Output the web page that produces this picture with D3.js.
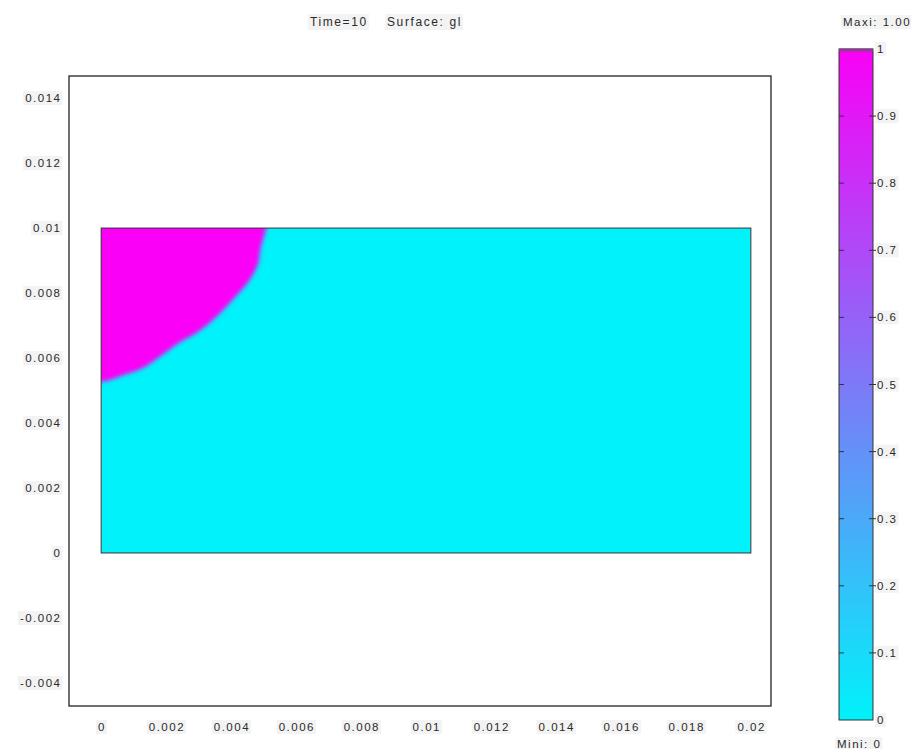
<!DOCTYPE html>
<html><head><meta charset="utf-8">
<script src="https://cdn.jsdelivr.net/npm/d3@7"></script>
<style>
html,body{margin:0;padding:0;background:#fff;}
text{font-family:"Liberation Sans",Arial,sans-serif;font-size:11.5px;letter-spacing:1.5px;fill:#2a2a2a;}
text.title{font-size:12px;letter-spacing:1.6px;}
</style></head>
<body><svg id="c" width="911" height="749"></svg>
<script>
// ---- data ----
const titleParts = ["Time=10", "Surface: gl"];
const xTicks = [0,0.002,0.004,0.006,0.008,0.01,0.012,0.014,0.016,0.018,0.02];
const xTickLabels = ["0","0.002","0.004","0.006","0.008","0.01","0.012","0.014","0.016","0.018","0.02"];
const yTicks = [-0.004,-0.002,0,0.002,0.004,0.006,0.008,0.01,0.012,0.014];
const yTickLabels = ["-0.004","-0.002","0","0.002","0.004","0.006","0.008","0.01","0.012","0.014"];
const domainX = [0, 0.02];       // geometry rectangle
const domainY = [0, 0.01];
const glInside = 1, glOutside = 0; // surface values
// boundary of gl=1 region (x, y), from top edge down to left edge
const boundaryX = [0.00509,0.00500,0.00491,0.00482,0.00453,0.00410,0.00360,0.00298,0.00244,0.00188,0.00129,0.00066,0.00020,0];
const boundaryY = [0.01000,0.00970,0.00938,0.00886,0.00834,0.00785,0.00732,0.00680,0.00649,0.00609,0.00569,0.00546,0.00530,0.00527];
const cbTicks = [0,0.1,0.2,0.3,0.4,0.5,0.6,0.7,0.8,0.9,1];
const cbTickLabels = ["0","0.1","0.2","0.3","0.4","0.5","0.6","0.7","0.8","0.9","1"];
const maxiLabel = "Maxi: 1.00", miniLabel = "Mini: 0";
const viewX = [-0.00099, 0.02062], viewY = [-0.00471, 0.01468];

// ---- drawing ----
const svg = d3.select("#c");
const x = d3.scaleLinear().domain(viewX).range([69, 771]);
const y = d3.scaleLinear().domain(viewY).range([706, 76]);
const color = d3.scaleLinear().domain([0,1]).range(["#00f2fa","#fa00f6"]).interpolate(d3.interpolateRgb);

function label(g, txt, tx, ty, anchor, cls){
  const t = g.append("text").attr("x",tx).attr("y",ty).attr("text-anchor",anchor).attr("dominant-baseline","central").text(txt);
  if(cls) t.attr("class",cls);
  const b = t.node().getBBox();
  g.insert("rect","text").attr("x",b.x-2).attr("y",b.y-1).attr("width",b.width+3).attr("height",b.height+2).attr("fill","#f3f3f3");
  return t;
}

// frame
svg.append("rect").attr("x",x(viewX[0])).attr("y",y(viewY[1]))
  .attr("width",x(viewX[1])-x(viewX[0])).attr("height",y(viewY[0])-y(viewY[1]))
  .attr("fill","#fff").attr("stroke","#222").attr("stroke-width",1.3);

const defs = svg.append("defs");
defs.append("clipPath").attr("id","geo").append("rect")
  .attr("x",x(domainX[0])).attr("y",y(domainY[1]))
  .attr("width",x(domainX[1])-x(domainX[0])).attr("height",y(domainY[0])-y(domainY[1]));
defs.append("filter").attr("id","blur").attr("x","-20%").attr("y","-20%").attr("width","140%").attr("height","140%")
  .append("feGaussianBlur").attr("stdDeviation",2.3);

const geo = svg.append("g").attr("clip-path","url(#geo)");
geo.append("rect").attr("x",x(domainX[0])).attr("y",y(domainY[1]))
  .attr("width",x(domainX[1])-x(domainX[0])).attr("height",y(domainY[0])-y(domainY[1]))
  .attr("fill",color(glOutside));
const pts = boundaryX.map((bx,i)=>[bx,boundaryY[i]]);
const line = d3.line().x(d=>x(d[0])).y(d=>y(d[1])).curve(d3.curveCatmullRom);
const inner = geo.append("g").attr("filter","url(#blur)");
inner.append("path").attr("d", line(pts)+ "L"+x(-0.0006)+","+y(boundaryY[boundaryY.length-1])+"L"+x(-0.0006)+","+y(0.0106)+"L"+x(boundaryX[0])+","+y(0.0106)+"Z")
  .attr("fill",color(glInside));
svg.append("rect").attr("x",x(domainX[0])).attr("y",y(domainY[1]))
  .attr("width",x(domainX[1])-x(domainX[0])).attr("height",y(domainY[0])-y(domainY[1]))
  .attr("fill","none").attr("stroke","#333").attr("stroke-width",1);

// axis labels
const gx = svg.append("g");
xTicks.forEach((v,i)=>label(gx, xTickLabels[i], x(v)+0.8, 727, "middle"));
const gy = svg.append("g");
yTicks.forEach((v,i)=>label(gy, yTickLabels[i], 61.5, y(v), "end"));

// title
const gt = svg.append("g");
label(gt, titleParts[0], 310, 22, "start", "title");
label(gt, titleParts[1], 387, 22, "start", "title");

// colorbar
const cb = d3.scaleLinear().domain([0,1]).range([720, 49]);
const cbx0 = 839, cbx1 = 873;
const grad = defs.append("linearGradient").attr("id","cg").attr("x1",0).attr("y1",1).attr("x2",0).attr("y2",0);
d3.range(0,1.0001,0.1).forEach(v=>grad.append("stop").attr("offset",v).attr("stop-color",color(v)));
svg.append("rect").attr("x",cbx0).attr("y",cb(1)).attr("width",cbx1-cbx0).attr("height",cb(0)-cb(1))
  .attr("fill","url(#cg)").attr("stroke","#333").attr("stroke-width",1);
svg.append("line").attr("x1",cbx0).attr("x2",cbx1).attr("y1",cb(1)+1).attr("y2",cb(1)+1)
  .attr("stroke","#8e3c90").attr("stroke-width",3);
const gc = svg.append("g");
cbTicks.forEach((v,i)=>{
  if(v>0 && v<1){
    gc.append("line").attr("x1",cbx0).attr("x2",cbx0+5).attr("y1",cb(v)).attr("y2",cb(v)).attr("stroke","#333");
    gc.append("line").attr("x1",cbx1-4).attr("x2",cbx1+3).attr("y1",cb(v)).attr("y2",cb(v)).attr("stroke","#333");
  }
  label(gc, cbTickLabels[i], cbx1+4, cb(v), "start");
});
label(svg.append("g"), maxiLabel, 843, 22, "start");
label(svg.append("g"), miniLabel, 837, 744, "start");
</script></body></html>
